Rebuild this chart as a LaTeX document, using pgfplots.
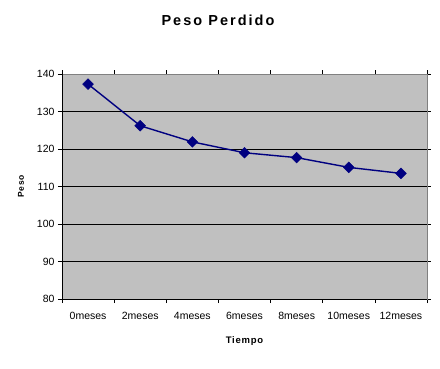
\documentclass[border=0pt]{standalone}
\usepackage{fontspec}
\setmainfont{Liberation Sans}
\usepackage{pgfplots}
\pgfplotsset{compat=1.18}
\definecolor{plotgray}{RGB}{192,192,192}
\definecolor{navyline}{RGB}{0,0,128}
\begin{document}
\begin{tikzpicture}[x=1pt,y=1pt]
\path[use as bounding box,fill=white] (-62,-69) rectangle (378,299);
\begin{axis}[
  at={(0,0)}, anchor=south west,
  scale only axis, width=365pt, height=225pt,
  xmin=-0.5, xmax=6.5, ymin=80, ymax=140,
  ytick={80,90,...,140},
  xtick={-0.5,0.5,...,6.5},
  x tick label as interval,
  xticklabels={0meses,2meses,4meses,6meses,8meses,10meses,12meses},
  tick align=outside,
  major tick length=4pt,
  tick style={black, line width=0.6pt},
  ymajorgrids,
  grid style={black, line width=0.6pt},
  axis background/.style={fill=plotgray},
  axis line style={draw=gray, line width=0.8pt},
  tick label style={font=\fontsize{10.5}{12}\selectfont},
  /pgf/number format/assume math mode=true,
  xticklabel style={yshift=-6pt},
  xlabel={\addfontfeature{LetterSpace=8}\bfseries Tiempo},
  xlabel style={font=\fontsize{9.5}{11}\selectfont, yshift=-10pt},
  ylabel={\addfontfeature{LetterSpace=10}\bfseries Peso},
  ylabel style={font=\fontsize{8.5}{10}\selectfont, yshift=6pt},
  clip=false,
]
\addplot[navyline, line width=1.4pt, mark=square*, mark size=3.8pt,
  mark options={fill=navyline, draw=navyline, line width=0.5pt, rotate=45}]
  coordinates {(0,137.3) (1,126.2) (2,121.9) (3,119.0) (4,117.7) (5,115.1) (6,113.5)};
\draw[black, line width=0.8pt] (rel axis cs:0,1) -- (rel axis cs:0,0) -- (rel axis cs:1,0);
\end{axis}
\node[font=\fontsize{14.5}{17}\selectfont\bfseries\addfontfeature{LetterSpace=14}] at (156,279) {Peso Perdido};
\end{tikzpicture}
\end{document}
